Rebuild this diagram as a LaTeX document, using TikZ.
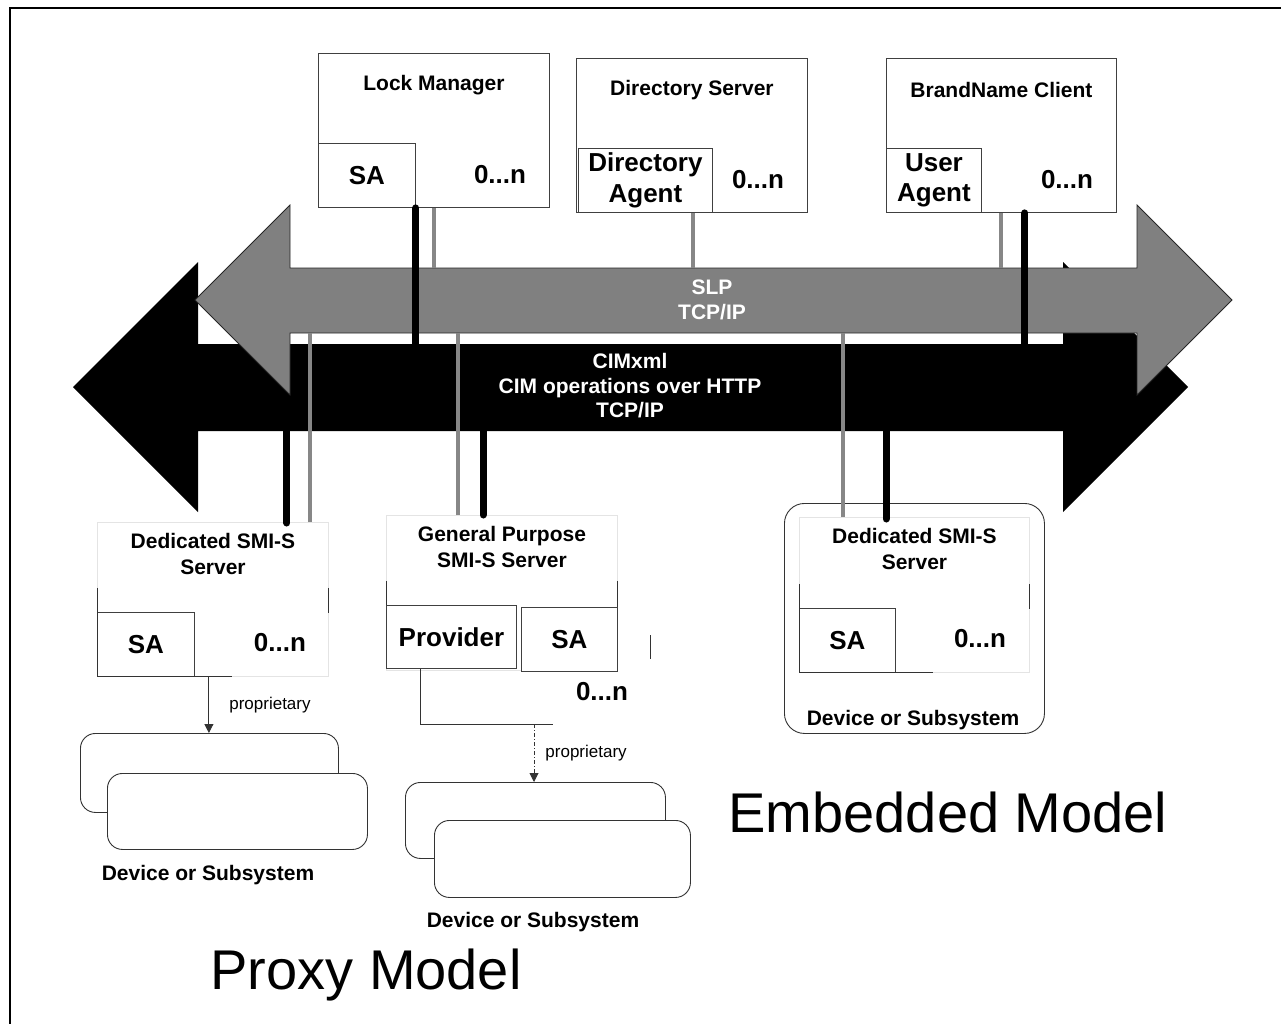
\documentclass[tikz,border=0pt]{standalone}
\usepackage{fontspec}
\setmainfont{Liberation Sans}
\usetikzlibrary{positioning, arrows.meta, calc}
\definecolor{slpcolor}{RGB}{128,128,128}
\definecolor{wirecolor}{RGB}{135,135,135}
\definecolor{faintcolor}{RGB}{228,228,228}
\newcommand{\ttlfont}{\fontsize{21}{25.5}\selectfont\bfseries}
\newcommand{\bigfont}{\fontsize{26}{30.5}\selectfont\bfseries}
\newcommand{\busfont}{\fontsize{21}{24.5}\selectfont\bfseries}
\newcommand{\modelfont}{\fontsize{56}{60}\selectfont}

\begin{document}
\begin{tikzpicture}[
  x=1pt, y=-1pt,
  >={Triangle[length=9pt, width=9pt]},
  % --- Styles ---
  hostbox/.style={
    rectangle, draw=black!75, fill=white, line width=0.9pt,
    inner sep=0pt, anchor=north west},
  fntbox/.style={
    rectangle, draw=faintcolor, line width=0.9pt,
    inner sep=0pt, anchor=north west},
  agent/.style={
    rectangle, draw=black!75, fill=white, line width=0.9pt,
    inner sep=0pt, align=center, font=\bigfont},
  devbox/.style={
    rectangle, rounded corners=15pt, draw=black!80, fill=white,
    line width=0.9pt, inner sep=0pt, anchor=north west},
  ttl/.style={font=\ttlfont, align=center, inner sep=0pt},
  big/.style={font=\bigfont, inner sep=0pt},
  bus/.style={font=\busfont, text=white, align=center, inner sep=0pt},
  lbl/.style={font=\fontsize{17}{20}\selectfont, inner sep=0pt},
  model/.style={font=\modelfont, inner sep=0pt},
  edge/.style={draw=black!80, line width=0.9pt},
  slpwire/.style={draw=wirecolor, line width=4pt},
  cimwire/.style={draw=black, line width=7pt, line cap=round},
]
\useasboundingbox (0,0) rectangle (1281,1024);
\draw[line width=2.5pt] (10,1024) -- (10,8) -- (1281,8);

% === BUS EDGES ===
\coordinate (slptop) at (0,268);
\coordinate (slpbot) at (0,333);
\coordinate (cimtop) at (0,344);
\coordinate (cimbot) at (0,431);

% === TOP HOSTS ===
% Lock Manager
\node[hostbox, minimum width=231pt, minimum height=154pt] (lm) at (318,53) {};
\node[ttl] (lmttl) at ($(lm.north)+(0,32)$) {Lock Manager};
\node[agent, anchor=south west, minimum width=97pt, minimum height=64pt]
  (lmsa) at (lm.south west) {SA};
\node[big] (lmn) at (500,175) {0...n};
% Directory Server
\node[hostbox, minimum width=231pt, minimum height=154pt] (ds) at (576,58) {};
\node[ttl] (dsttl) at ($(ds.north)+(0,32)$) {Directory Server};
\node[agent, anchor=south west, minimum width=134pt, minimum height=64pt]
  (da) at ($(ds.south west)+(2,0)$) {Directory\\Agent};
\node[big] (dsn) at (758,180) {0...n};
% BrandName Client
\node[hostbox, minimum width=230pt, minimum height=154pt] (bn) at (886,58) {};
\node[ttl] (bnttl) at ($(bn.north)+(0,32)$) {BrandName Client};
\node[agent, anchor=south west, minimum width=95pt, minimum height=64pt]
  (ua) at (bn.south west) {User\\Agent};
\node[big] (bnn) at (1067,180) {0...n};

% === PROXY: DEDICATED SERVER ===
\node[fntbox, minimum width=231pt, minimum height=154pt] (sv1) at (97,522) {};
\node[ttl] (sv1ttl) at ($(sv1.north)+(0,32)$) {Dedicated SMI-S\\Server};
\node[agent, anchor=south west, minimum width=97pt, minimum height=64pt]
  (sa1) at (sv1.south west) {SA};
\node[big] (sv1n) at (280,643) {0...n};
\draw[edge] ($(sv1.south west)+(0,-89)$) -- (sv1.south west) -- ++(135,0);
\draw[edge] ($(sv1.south east)+(0,-89)$) -- ($(sv1.south east)+(0,-64)$);
\node[devbox, minimum width=258pt, minimum height=79pt] (dev1b) at (80,733) {};
\node[devbox, minimum width=260pt, minimum height=76pt] (dev1f) at (107,773) {};
\node[ttl] (dev1lbl) at (208,875) {Device or Subsystem};
\coordinate (p1) at ($(sa1.south east)+(14,0)$);
\draw[edge, ->] (p1) -- node[lbl, right=20pt] {proprietary} (p1 |- dev1b.north);

% === PROXY: GENERAL PURPOSE SERVER ===
\node[fntbox, minimum width=231pt, minimum height=155pt] (gp) at (386,515) {};
\node[ttl] (gpttl) at ($(gp.north)+(0,32)$) {General Purpose\\SMI-S Server};
\node[agent, anchor=south west, minimum width=130pt, minimum height=63pt]
  (pv) at ($(gp.south west)+(0,-2)$) {Provider};
\node[agent, anchor=north west, minimum width=96pt, minimum height=64pt]
  (gpsa) at (521,607) {SA};
\node[big] (gpn) at (602,692) {0...n};
\draw[edge] ($(gp.south west)+(0,-90)$) -- (pv.north west);
\draw[edge] ($(gp.south east)+(0,-90)$) -- (gpsa.north east);
\draw[edge] (650,635) -- (650,659);
\coordinate (gpj) at (534,724);
\draw[edge] ($(pv.south west)+(34,0)$) -- ++(0,56) -- ++(133,0);
\node[devbox, minimum width=260pt, minimum height=76pt] (dev2b) at (405,782) {};
\node[devbox, minimum width=256pt, minimum height=77pt] (dev2f) at (434,820) {};
\node[ttl] (dev2lbl) at (533,922) {Device or Subsystem};
\draw[edge, ->, dash pattern=on 4pt off 2pt on 1pt off 2pt]
  (gpj) -- node[lbl, right=11pt] {proprietary} (gpj |- dev2b.north);

% === EMBEDDED SERVER ===
\node[devbox, rounded corners=20pt, minimum width=260pt, minimum height=230pt]
  (emb) at (784,503) {};
\node[fntbox, minimum width=230pt, minimum height=155pt] (es) at (799,517) {};
\node[ttl] (esttl) at ($(es.north)+(0,32)$) {Dedicated SMI-S\\Server};
\node[agent, anchor=south west, minimum width=96pt, minimum height=64pt]
  (essa) at (es.south west) {SA};
\node[big] (esn) at (980,639) {0...n};
\draw[edge] ($(es.south west)+(0,-89)$) -- (es.south west) -- ++(134,0);
\draw[edge] ($(es.south east)+(0,-89)$) -- ($(es.south east)+(0,-64)$);
\node[ttl] (emblbl) at (913,720) {Device or Subsystem};

% === BUSES ===
% CIMxml (black, behind)
\fill[black] (73,387) -- (198,262) -- (198,344) -- (1063,344)
  -- (1063,262) -- (1188,387) -- (1063,512) -- (1063,431)
  -- (198,431) -- (198,512) -- cycle;
% SLP (gray, in front)
\filldraw[fill=slpcolor, draw=black!85, line width=0.8pt]
  (195,300) -- (290,205) -- (290,268) -- (1137,268)
  -- (1137,205) -- (1232,300) -- (1137,395) -- (1137,333)
  -- (290,333) -- (290,395) -- cycle;
\node[bus] (slp) at (712,300) {SLP\\TCP/IP};
\node[bus] (cim) at (630,386) {CIMxml\\CIM operations over HTTP\\TCP/IP};

% === WIRES ===
\draw[cimwire] (lmsa.south east) -- (lmsa.south east |- cimtop);
\draw[slpwire] (lm.south) -- (lm.south |- slptop);
\draw[slpwire] ($(da.south east)+(-20,0)$) coordinate (daw) -- (daw |- slptop);
\draw[slpwire] ($(ua.south east)+(19,0)$) coordinate (uaw) -- (uaw |- slptop);
\draw[cimwire] ($(ua.south east)+(43,0)$) coordinate (uac) -- (uac |- cimtop);
\draw[slpwire] ($(sv1.north east)+(-19,0)$) coordinate (s1w) -- (s1w |- slpbot);
\draw[cimwire] ($(sv1.north east)+(-42,1)$) coordinate (s1c) -- (s1c |- cimbot);
\draw[slpwire] ($(gp.north west)+(72,0)$) coordinate (gpw) -- (gpw |- slpbot);
\draw[cimwire] ($(gp.north west)+(97,0)$) coordinate (gpc) -- (gpc |- cimbot);
\draw[slpwire] ($(es.north west)+(44,0)$) coordinate (esw) -- (esw |- slpbot);
\draw[cimwire] ($(es.north west)+(87,2)$) coordinate (esc) -- (esc |- cimbot);

% === MODEL LABELS ===
\node[model] (embmodel) at (948,812) {Embedded Model};
\node[model] (proxymodel) at (366,975) {Proxy Model};
\end{tikzpicture}
\end{document}
